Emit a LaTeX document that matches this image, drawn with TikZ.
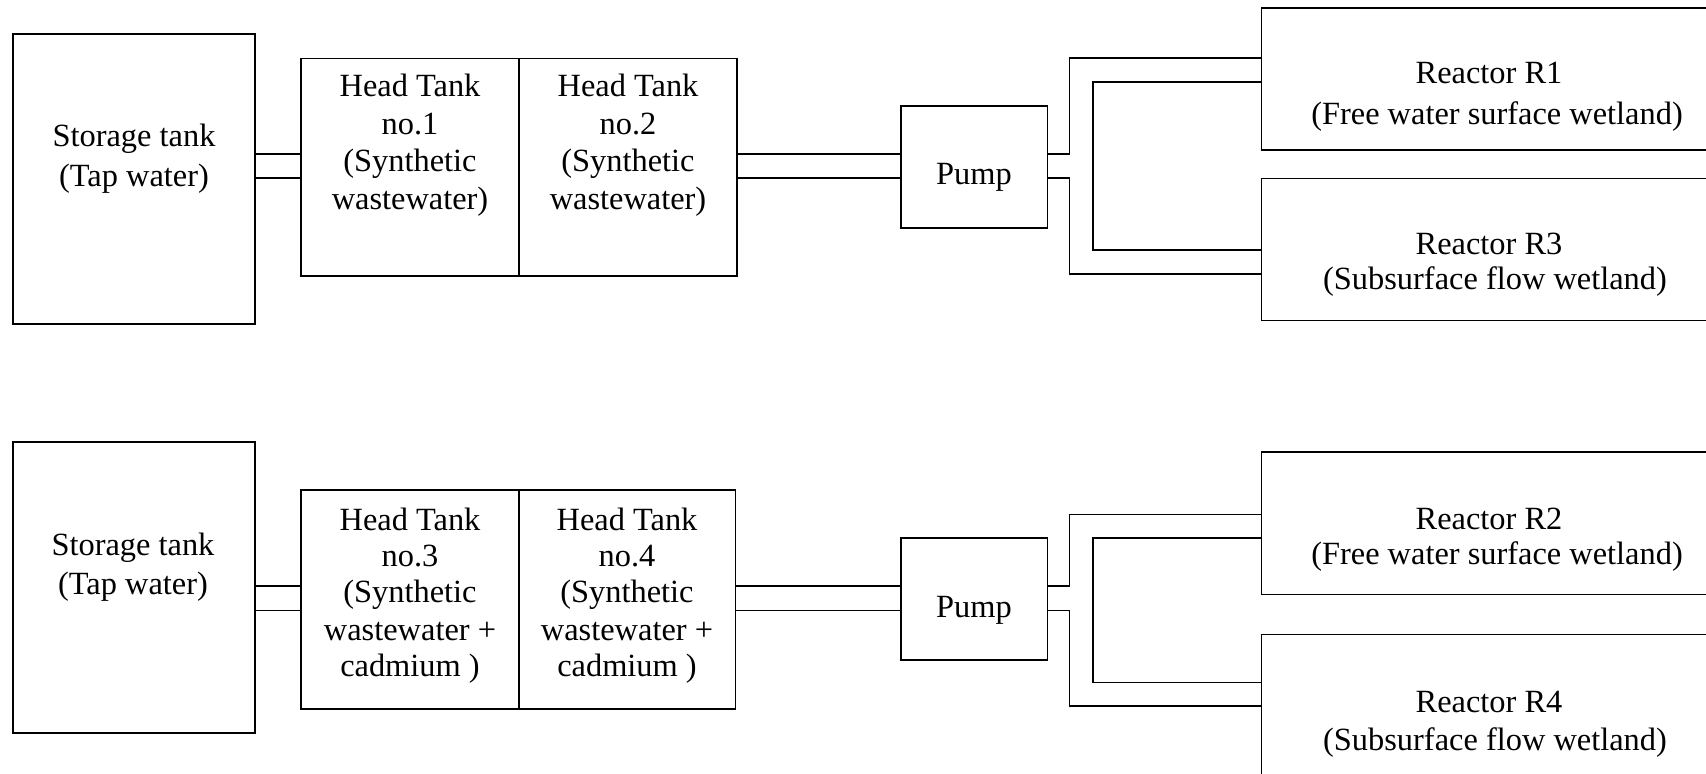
\documentclass[tikz,border=0pt]{standalone}
\usepackage{fontspec}
\setmainfont{Liberation Serif}
\begin{document}
\begin{tikzpicture}[x=0.5pt,y=-0.5pt,
  box/.style={draw,line width=0.8pt,inner sep=0pt,rectangle},
  pipe/.style={draw,line width=0.8pt},
  txt/.style={anchor=base,inner sep=0pt,font=\fontsize{16.2}{18}\selectfont}]
\useasboundingbox (0,0) rectangle (1706,774);
\clip (0,0) rectangle (1706,774);
% ---------- top row ----------
\node[box,minimum width=121pt,minimum height=145pt] (st1) at (134,179) {};
\node[box,minimum width=109pt,minimum height=108.75pt] (ht1) at (410,167.25) {};
\node[box,minimum width=109pt,minimum height=108.75pt] (ht2) at (628,167.25) {};
\node[box,minimum width=73.25pt,minimum height=61pt] (p1) at (974.25,167) {};
\node[box,minimum width=229.25pt,minimum height=71pt] (r1) at (1490.75,79.3) {};
\node[box,minimum width=229.25pt,minimum height=71.1pt] (r3) at (1490.75,249.6) {};
\node[txt] (st1a) at (134,146.7) {Storage tank};
\node[txt] (st1b) at (134,186.5) {(Tap water)};
\node[txt] (ht1a) at (410,96.7) {Head Tank};
\node[txt] (ht1b) at (410,135) {no.1};
\node[txt] (ht1c) at (410,172) {(Synthetic};
\node[txt] (ht1d) at (410,210) {wastewater)};
\node[txt] (ht2a) at (628,96.7) {Head Tank};
\node[txt] (ht2b) at (628,135) {no.2};
\node[txt] (ht2c) at (628,172) {(Synthetic};
\node[txt] (ht2d) at (628,210) {wastewater)};
\node[txt] (p1a) at (974,184.5) {Pump};
\node[txt] (r1a) at (1489,83.3) {Reactor R1};
\node[txt] (r1b) at (1497,125) {(Free water surface wetland)};
\node[txt] (r3a) at (1489,255) {Reactor R3};
\node[txt] (r3b) at (1495,290) {(Subsurface flow wetland)};
\draw[pipe] (st1.east |- 0,154.3) -- (ht1.west |- 0,154.3);
\draw[pipe] (st1.east |- 0,178.3) -- (ht1.west |- 0,178.3);
\draw[pipe] (ht2.east |- 0,154.3) -- (p1.west |- 0,154.3);
\draw[pipe] (ht2.east |- 0,178.3) -- (p1.west |- 0,178.3);
\draw[pipe] (p1.east |- 0,154.3) -- (1069.3,154.3) |- (r1.west |- 0,58.3);
\draw[pipe] (r1.west |- 0,82) -| (1093,250) -- (r3.west |- 0,250);
\draw[pipe] (p1.east |- 0,178.3) -- (1069.3,178.3) |- (r3.west |- 0,274.3);
% ---------- bottom row ----------
\node[box,minimum width=121pt,minimum height=145.5pt] (st2) at (134,587.5) {};
\node[box,minimum width=108.75pt,minimum height=109.5pt] (ht3) at (410,599.5) {};
\node[box,minimum width=108.5pt,minimum height=109.5pt] (ht4) at (627,599.5) {};
\node[box,minimum width=73.25pt,minimum height=61pt] (p2) at (974.25,599) {};
\node[box,minimum width=229.25pt,minimum height=71pt] (r2) at (1490.75,523.3) {};
\node[box,minimum width=229.25pt,minimum height=82.75pt] (r4) at (1490.75,717.25) {};
\node[txt] (st2a) at (133,555) {Storage tank};
\node[txt] (st2b) at (133,594.3) {(Tap water)};
\node[txt] (ht3a) at (410,530.7) {Head Tank};
\node[txt] (ht3b) at (410,566.7) {no.3};
\node[txt] (ht3c) at (410,602.7) {(Synthetic};
\node[txt] (ht3d) at (410,640) {wastewater +};
\node[txt] (ht3e) at (410,676) {cadmium )};
\node[txt] (ht4a) at (627,530.7) {Head Tank};
\node[txt] (ht4b) at (627,566.7) {no.4};
\node[txt] (ht4c) at (627,602.7) {(Synthetic};
\node[txt] (ht4d) at (627,640) {wastewater +};
\node[txt] (ht4e) at (627,676) {cadmium )};
\node[txt] (p2a) at (974,617) {Pump};
\node[txt] (r2a) at (1489,529) {Reactor R2};
\node[txt] (r2b) at (1497,564) {(Free water surface wetland)};
\node[txt] (r4a) at (1489,712.7) {Reactor R4};
\node[txt] (r4b) at (1495,750) {(Subsurface flow wetland)};
\draw[pipe] (st2.east |- 0,586) -- (ht3.west |- 0,586);
\draw[pipe] (st2.east |- 0,610.3) -- (ht3.west |- 0,610.3);
\draw[pipe] (ht4.east |- 0,586) -- (p2.west |- 0,586);
\draw[pipe] (ht4.east |- 0,610.3) -- (p2.west |- 0,610.3);
\draw[pipe] (p2.east |- 0,586) -- (1069.3,586) |- (r2.west |- 0,514.3);
\draw[pipe] (r2.west |- 0,538) -| (1093,682.3) -- (r4.west |- 0,682.3);
\draw[pipe] (p2.east |- 0,610.3) -- (1069.3,610.3) |- (r4.west |- 0,706);
\end{tikzpicture}
\end{document}
